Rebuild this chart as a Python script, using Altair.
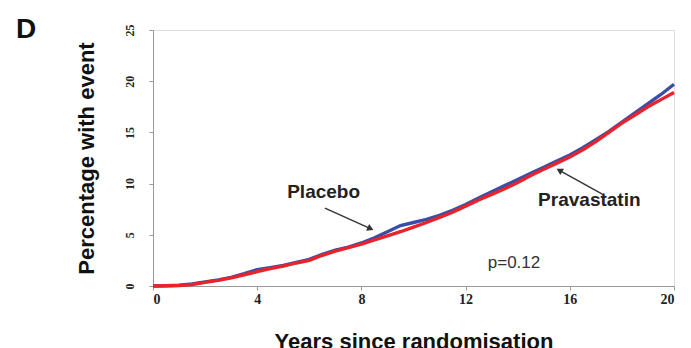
import altair as alt
import pandas as pd

years = [0, 0.5, 1, 1.5, 2, 2.5, 3, 3.5, 4, 4.5, 5, 5.5, 6, 6.5, 7, 7.5, 8, 8.5, 9, 9.5,
         10, 10.5, 11, 11.5, 12, 12.5, 13, 13.5, 14, 14.5, 15, 15.5, 16, 16.5, 17, 17.5,
         18, 18.5, 19, 19.5, 20]
placebo = [0, 0.02, 0.08, 0.2, 0.4, 0.6, 0.85, 1.2, 1.6, 1.8, 2.0, 2.3, 2.6, 3.1, 3.5, 3.8,
           4.2, 4.7, 5.3, 5.9, 6.2, 6.5, 6.9, 7.4, 7.95, 8.6, 9.2, 9.8, 10.4, 11.0, 11.6,
           12.2, 12.8, 13.5, 14.3, 15.1, 16.0, 16.9, 17.8, 18.7, 19.7]
pravastatin = [0, 0.02, 0.05, 0.15, 0.35, 0.55, 0.8, 1.1, 1.4, 1.7, 1.95, 2.25, 2.5, 3.0,
               3.4, 3.75, 4.1, 4.5, 4.9, 5.3, 5.75, 6.2, 6.7, 7.2, 7.8, 8.4, 8.95, 9.5, 10.1,
               10.8, 11.4, 12.0, 12.6, 13.3, 14.1, 15.0, 15.9, 16.7, 17.5, 18.2, 18.9]

series_names = ["Placebo", "Pravastatin"]
series_colors = ["#3b4ea6", "#e8232c"]

x_ticks = [0, 4, 8, 12, 16, 20]
y_ticks = [0, 5, 10, 15, 20, 25]

# annotation texts and their positions (data units)
ann_text = ["Placebo", "Pravastatin"]
ann_x = [6.55, 16.75]
ann_y = [9.15, 8.35]
arrow_x1 = [6.6, 17.3]
arrow_y1 = [7.6, 8.9]
arrow_x2 = [8.35, 15.6]
arrow_y2 = [5.6, 11.3]
arrow_angle = [25, 210]

rows = []
for name, vals in zip(series_names, [placebo, pravastatin]):
    for x, y in zip(years, vals):
        rows.append({"year": x, "pct": y, "group": name})
df = pd.DataFrame(rows)

xscale = alt.Scale(domain=[0, 20], nice=False)
yscale = alt.Scale(domain=[0, 25], nice=False)

lines = alt.Chart(df).mark_line(strokeWidth=3.4, interpolate="linear").encode(
    x=alt.X("year:Q", scale=xscale,
            axis=alt.Axis(values=x_ticks, title="Years since randomisation",
                          labelFont="Liberation Serif", labelFontWeight="bold",
                          labelFontSize=14, labelColor="#222", labelPadding=2,
                          titleFont="Liberation Sans", titleFontSize=22,
                          titleFontWeight="bold", titleColor="#111", titlePadding=25,
                          domainColor="#999", tickColor="#999", tickSize=4, grid=False)),
    y=alt.Y("pct:Q", scale=yscale,
            axis=alt.Axis(values=y_ticks, title="Percentage with event",
                          labelFont="Liberation Serif", labelFontWeight="bold",
                          labelFontSize=12, labelColor="#222", labelAngle=270,
                          labelAlign="center", labelBaseline="bottom", labelPadding=13,
                          titleFont="Liberation Sans", titleFontSize=22,
                          titleFontWeight="bold", titleColor="#111", titlePadding=25,
                          domainColor="#999", tickColor="#999", tickSize=4, grid=False)),
    color=alt.Color("group:N", scale=alt.Scale(domain=series_names, range=series_colors),
                    legend=None),
)

ann_df = pd.DataFrame({"text": ann_text, "x": ann_x, "y": ann_y,
                       "x1": arrow_x1, "y1": arrow_y1, "x2": arrow_x2, "y2": arrow_y2,
                       "angle": arrow_angle})

labels = alt.Chart(ann_df).mark_text(font="Liberation Sans", fontSize=19, fontWeight="bold",
                                     color="#222").encode(
    x=alt.X("x:Q", scale=xscale), y=alt.Y("y:Q", scale=yscale), text="text:N")

arrows = alt.Chart(ann_df).mark_rule(color="#333", strokeWidth=1.4).encode(
    x=alt.X("x1:Q", scale=xscale), y=alt.Y("y1:Q", scale=yscale),
    x2="x2:Q", y2="y2:Q")

heads = alt.Chart(ann_df).mark_point(shape="triangle-right", filled=True, color="#333",
                                     size=55, opacity=1).encode(
    x=alt.X("x2:Q", scale=xscale), y=alt.Y("y2:Q", scale=yscale),
    angle=alt.Angle("angle:Q", scale=None))

pval = alt.Chart(pd.DataFrame({"t": ["p=0.12"]})).mark_text(
    font="Liberation Sans", fontSize=17, color="#333").encode(
    x=alt.value(361), y=alt.value(233), text="t:N")

panel = alt.Chart(pd.DataFrame({"t": ["D"]})).mark_text(
    font="Liberation Sans", fontSize=28, fontWeight="bold", color="#111").encode(
    x=alt.value(-127), y=alt.value(0), text="t:N")

chart = alt.layer(lines, arrows, heads, labels, pval, panel).properties(
    width=521, height=256,
    autosize=alt.AutoSizeParams(type="none"),
    padding={"left": 153, "top": 30, "right": 17, "bottom": 62},
).configure_view(stroke=None).configure(background="white")

chart.save("out.html", embed_options={"renderer": "svg", "actions": False})
